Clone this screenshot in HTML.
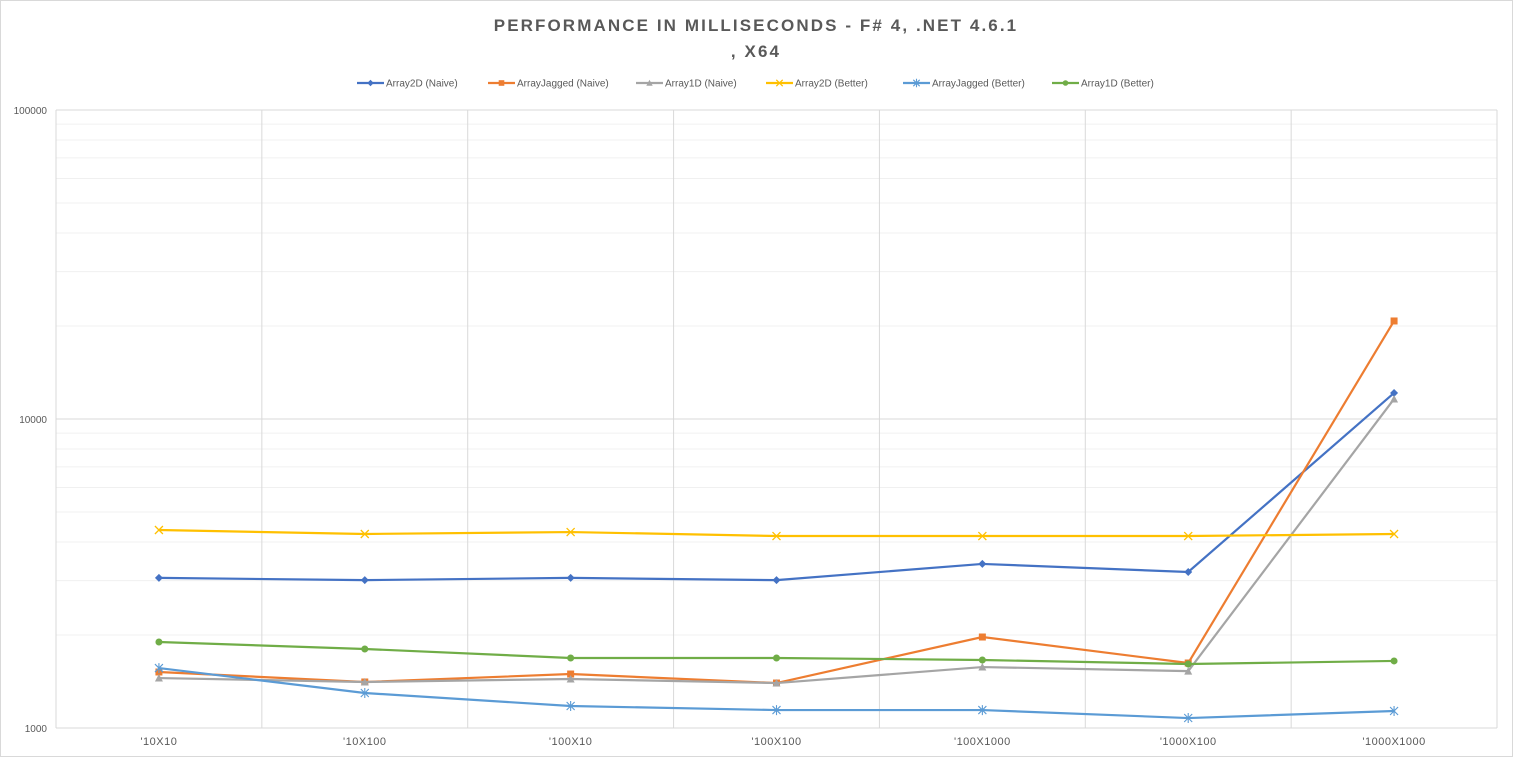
<!DOCTYPE html>
<html><head><meta charset="utf-8"><style>
body{margin:0;background:#fff;font-family:"Liberation Sans",sans-serif}
svg{display:block}
</style></head><body>
<svg id="chart" width="1513" height="757">
<rect x="0.5" y="0.5" width="1512" height="756" fill="#fff" stroke="#d9d9d9"/>
<text x="756" y="31" text-anchor="middle" font-size="17" font-weight="bold" fill="#595959" letter-spacing="2.1">PERFORMANCE IN MILLISECONDS - F# 4, .NET 4.6.1</text>
<text x="756" y="57" text-anchor="middle" font-size="17" font-weight="bold" fill="#595959" letter-spacing="2.1">, X64</text>
<g id="grid"></g><g id="axes"></g><g id="series"></g><g id="legend"></g>
</svg>
<script>
const categories=["'10X10","'10X100","'100X10","'100X100","'100X1000","'1000X100","'1000X1000"];
const seriesNames=["Array2D (Naive)","ArrayJagged (Naive)","Array1D (Naive)","Array2D (Better)","ArrayJagged (Better)","Array1D (Better)"];
const array2dNaive=[3060,3010,3060,3010,3396,3198,12140];
const arrayJaggedNaive=[1518,1409,1495,1398,1970,1623,20760];
const array1dNaive=[1451,1409,1441,1398,1575,1528,11610];
const array2dBetter=[4373,4245,4307,4181,4181,4181,4245];
const arrayJaggedBetter=[1563,1298,1178,1143,1143,1077,1135];
const array1dBetter=[1898,1802,1685,1685,1660,1611,1648];
const yTicks=[1000,10000,100000];
const NS="http://www.w3.org/2000/svg";
const L=56,R=1497,T=110,B=728;
const xs=i=>L+(R-L)/categories.length*(i+0.5);
const ys=v=>B-(B-T)/2*Math.log10(v/1000);
function mk(t,a,p){const e=document.createElementNS(NS,t);for(const k in a)e.setAttribute(k,a[k]);p.appendChild(e);return e;}
const grid=document.getElementById('grid'),axes=document.getElementById('axes'),ser=document.getElementById('series'),leg=document.getElementById('legend');
for(let d=1000;d<100000;d*=10){for(let m=2;m<10;m++){const y=ys(d*m);const g=mk('line',{x1:L,x2:R,y1:y,y2:y,stroke:'#f0f0f0'},grid);

}}
yTicks.forEach(v=>{const y=ys(v);const g=mk('line',{x1:L,x2:R,y1:y,y2:y,stroke:'#d9d9d9'},grid);


const t=mk('text',{x:47,y:y+4,'text-anchor':'end','font-size':10,fill:'#595959'},axes);t.textContent=v;

});
for(let i=0;i<=categories.length;i++){const x=L+(R-L)/categories.length*i;const g=mk('line',{x1:x,x2:x,y1:T,y2:B,stroke:'#d9d9d9'},grid);

}
categories.forEach((c,i)=>{const t=mk('text',{x:xs(i),y:745,'text-anchor':'middle','font-size':11,fill:'#595959','letter-spacing':'0.5'},axes);t.textContent=c;

});
const data=[array2dNaive,arrayJaggedNaive,array1dNaive,array2dBetter,arrayJaggedBetter,array1dBetter];
const colors=["#4472c4","#ed7d31","#a5a5a5","#ffc000","#5b9bd5","#70ad47"];
const markers=["diamond","square","triangle","x","star","circle"];
function marker(type,x,y,c,p,s){s=s||4;let e;
if(type==='diamond')e=mk('polygon',{points:`${x},${y-s} ${x+s},${y} ${x},${y+s} ${x-s},${y}`,fill:c},p);
else if(type==='square')e=mk('rect',{x:x-s*0.875,y:y-s*0.875,width:s*1.75,height:s*1.75,fill:c},p);
else if(type==='triangle')e=mk('polygon',{points:`${x},${y-s} ${x+s},${y+s*0.875} ${x-s},${y+s*0.875}`,fill:c},p);
else if(type==='circle')e=mk('circle',{cx:x,cy:y,r:s*0.875,fill:c},p);
else if(type==='x')e=mk('path',{d:`M${x-s} ${y-s}L${x+s} ${y+s}M${x-s} ${y+s}L${x+s} ${y-s}`,stroke:c,'stroke-width':1.3},p);
else e=mk('path',{d:`M${x-s} ${y-s}L${x+s} ${y+s}M${x-s} ${y+s}L${x+s} ${y-s}M${x} ${y-s-1}L${x} ${y+s+1}`,stroke:c,'stroke-width':1.1},p);
return e;}
data.forEach((vals,s)=>{const pts=vals.map((v,i)=>xs(i)+','+ys(v)).join(' ');
const pl=mk('polyline',{points:pts,fill:'none',stroke:colors[s],'stroke-width':2.2},ser);


vals.forEach((v,i)=>{const m=marker(markers[s],xs(i),ys(v),colors[s],ser);

});});
const legX=[357,488,636,766,903,1052];
seriesNames.forEach((n,s)=>{const g=mk('g',{},leg);


mk('line',{x1:legX[s],x2:legX[s]+27,y1:83,y2:83,stroke:colors[s],'stroke-width':2.2},g);
marker(markers[s],legX[s]+13.5,83,colors[s],g,3.2);
const t=mk('text',{x:legX[s]+29,y:86.5,'font-size':10,fill:'#595959'},g);t.textContent=n;});
</script>
</body></html>
